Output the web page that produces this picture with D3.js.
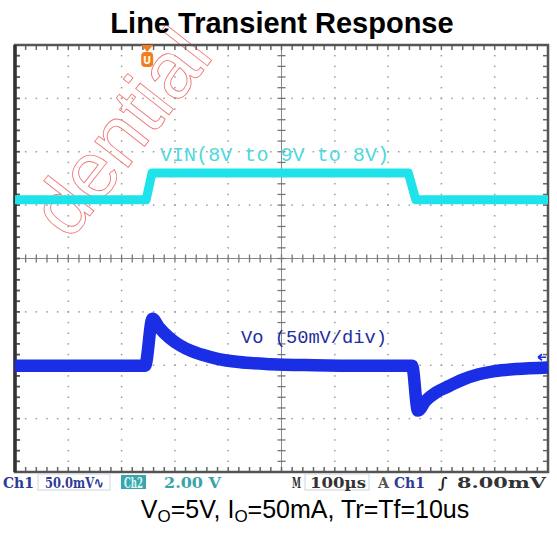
<!DOCTYPE html>
<html><head><meta charset="utf-8">
<script src="https://cdn.jsdelivr.net/npm/d3@7"></script>
<style>body{margin:0;background:#fff}svg{display:block}</style>
</head><body>
<svg id="chart" width="557" height="536"></svg>
<script>
// ---------- data ----------
const titleText = "Line Transient Response";
const timeDivsUs = [0,100,200,300,400,500,600,700,800,900,1000];   // 100us/div
const vertDivs = [-4,-3,-2,-1,0,1,2,3,4];
// Ch2 : VIN (2.00 V/div)
const vinTimeUs = [0, 246, 257, 738, 752, 1000];
const vinVolts  = [8, 8, 9, 9, 8, 8];
// Ch1 : Vo deviation (50.0 mV/div)
const voTimeUs = [0, 244, 258, 270, 290, 310, 330, 350, 380, 420, 480, 560, 650, 745, 756, 770, 790, 810, 840, 870, 900, 940, 1000];
const voDevMv  = [0, 0, 44, 36, 26, 19, 14, 10.5, 6.5, 3.5, 1.5, 0.5, 0, 0, -42, -33, -25, -20, -13, -8, -5, -3, -1.5];
const vinLabel = "VIN(8V to 9V to 8V)";
const voLabel = "Vo (50mV/div)";
const watermarkText = "dential";
const captionParts = [["V",""],["O","sub"],["=5V, I",""],["O","sub"],["=50mA, Tr=Tf=10us",""]];
const statusItems = [
  {t:"Ch1", x:3, w:31, c:"#2d3a96"},
  {t:"50.0mV\u223F", x:45, w:59, c:"#2d3a96"},
  {t:"Ch2", x:124, w:19, c:"#dff6f6", box:"#38a7ad"},
  {t:"2.00 V", x:164, w:57, c:"#3aa3aa"},
  {t:"M", x:292, w:9, c:"#333"},
  {t:"100\u00B5s", x:310, w:56, c:"#333"},
  {t:"A", x:378, w:11, c:"#555"},
  {t:"Ch1", x:394, w:31, c:"#2d3a96"},
  {t:"\u222B", x:438, w:10, c:"#222"},
  {t:"8.00mV", x:457, w:89, c:"#333"}
];
const ch1TrigMv = 8;   // trigger level

// ---------- layout ----------
const svg = d3.select("#chart");
const L = 15, R = 548, T = 45, B = 472;
const x = d3.scaleLinear().domain([0,1000]).range([L,R]);
const y = d3.scaleLinear().domain([-4,4]).range([B,T]);
const vinDiv = v => v/2 - 2.9;
const voDiv = mv => mv/50 - 2.01;

// watermark
svg.append("text")
  .attr("transform","translate(215,56) rotate(-52)")
  .attr("text-anchor","end")
  .style("font-family","Liberation Sans, Arial, sans-serif")
  .style("font-size","80px")
  .attr("fill","none").attr("stroke","#f07878").attr("stroke-width",0.9)
  .text(watermarkText);

// title
svg.append("text").attr("x",282).attr("y",33).attr("text-anchor","middle")
  .style("font-family","Liberation Sans, Arial, sans-serif").style("font-weight","bold")
  .style("font-size","29px").attr("fill","#000").text(titleText);

const g = svg.append("g");

// dotted grid
const minor = d3.range(0, 1000.001, 20);
const minorV = d3.range(-4, 4.001, 0.2);
timeDivsUs.slice(1,-1).filter(t=>t!==500).forEach(t=>{
  g.selectAll(null).data(minorV).join("rect")
    .attr("x", x(t)-0.75).attr("y", d=>y(d)-0.75).attr("width",1.5).attr("height",1.5).attr("fill","#9a9a9a");
});
vertDivs.slice(1,-1).filter(d=>d!==0).forEach(d=>{
  g.selectAll(null).data(minor).join("rect")
    .attr("x", t=>x(t)-0.75).attr("y", y(d)-0.75).attr("width",1.5).attr("height",1.5).attr("fill","#9a9a9a");
});
// centre cross
g.append("line").attr("x1",L).attr("x2",R).attr("y1",y(0)).attr("y2",y(0)).attr("stroke","#8a8a8a").attr("stroke-width",1);
g.append("line").attr("x1",x(500)).attr("x2",x(500)).attr("y1",T).attr("y2",B).attr("stroke","#8a8a8a").attr("stroke-width",1);
g.selectAll(null).data(minor).join("line")
  .attr("x1",t=>x(t)).attr("x2",t=>x(t)).attr("y1",y(0)-4).attr("y2",y(0)+4).attr("stroke","#777").attr("stroke-width",1.3);
g.selectAll(null).data(minorV).join("line")
  .attr("y1",d=>y(d)).attr("y2",d=>y(d)).attr("x1",x(500)-4).attr("x2",x(500)+4).attr("stroke","#777").attr("stroke-width",1.3);
// border ticks
g.selectAll(null).data(minor).join("line")
  .attr("x1",t=>x(t)).attr("x2",t=>x(t)).attr("y1",T).attr("y2",T+5).attr("stroke","#666").attr("stroke-width",1.5);
g.selectAll(null).data(minor).join("line")
  .attr("x1",t=>x(t)).attr("x2",t=>x(t)).attr("y1",B-5).attr("y2",B).attr("stroke","#666").attr("stroke-width",1.5);
g.selectAll(null).data(minorV).join("line")
  .attr("y1",d=>y(d)).attr("y2",d=>y(d)).attr("x1",L).attr("x2",L+5).attr("stroke","#555").attr("stroke-width",1.8);
g.selectAll(null).data(minorV).join("line")
  .attr("y1",d=>y(d)).attr("y2",d=>y(d)).attr("x1",R-5).attr("x2",R).attr("stroke","#666").attr("stroke-width",1.5);
// border
g.append("rect").attr("x",L).attr("y",T).attr("width",R-L).attr("height",B-T)
  .attr("fill","none").attr("stroke","#555").attr("stroke-width",2.5);
g.append("line").attr("x1",L).attr("x2",L).attr("y1",T).attr("y2",B).attr("stroke","#333").attr("stroke-width",3.5);

// traces
const vinData = vinTimeUs.map((t,i)=>[t, vinVolts[i]]);
const voData = voTimeUs.map((t,i)=>[t, voDevMv[i]]);
g.append("path").datum(vinData)
  .attr("d", d3.line().x(d=>x(d[0])).y(d=>y(vinDiv(d[1]))))
  .attr("fill","none").attr("stroke","#1fe3ea").attr("stroke-width",9).attr("stroke-linejoin","round");
g.append("path").datum(voData)
  .attr("d", d3.line().curve(d3.curveMonotoneX).x(d=>x(d[0])).y(d=>y(voDiv(d[1]))))
  .attr("fill","none").attr("stroke","#1a2ee6").attr("stroke-width",12.5).attr("stroke-linejoin","round");

// labels
svg.append("text").attr("x",160).attr("y",161)
  .style("font-family","Liberation Mono, DejaVu Sans Mono, monospace").style("font-size","20px")
  .attr("textLength",229).attr("lengthAdjust","spacingAndGlyphs")
  .attr("fill","#4fd8de").text(vinLabel);
svg.append("text").attr("x",241).attr("y",343)
  .style("font-family","Liberation Mono, DejaVu Sans Mono, monospace").style("font-size","19px")
  .attr("textLength",146).attr("lengthAdjust","spacingAndGlyphs")
  .attr("fill","#1e2e9e").text(voLabel);

// trigger position marker
const tx = x(248);
svg.append("path").attr("d",`M${tx-6},${T} L${tx+6},${T} L${tx},${T+7} Z`).attr("fill","#f07d1e");
svg.append("rect").attr("x",tx-6).attr("y",T+7).attr("width",12).attr("height",15).attr("rx",4).attr("fill","#f07d1e");
svg.append("text").attr("x",tx).attr("y",T+19).attr("text-anchor","middle")
  .style("font-family","DejaVu Sans, sans-serif").style("font-size","10px").style("font-weight","bold").attr("fill","#fff3e0").text("U");
// trigger level marker
const ty = y(voDiv(ch1TrigMv));
svg.append("path").attr("d",`M${R-10},${ty} L${R-2},${ty} M${R-10},${ty} L${R-6},${ty-3} M${R-10},${ty} L${R-6},${ty+3}`)
  .attr("stroke","#1a2ee6").attr("stroke-width",1.6).attr("fill","none");

// status bar
const sb = svg.append("g");
sb.append("rect").attr("x",38).attr("y",474).attr("width",72).attr("height",16).attr("fill","none").attr("stroke","#cfd4dc").attr("stroke-width",1);
sb.append("rect").attr("x",305).attr("y",474).attr("width",64).attr("height",16).attr("fill","none").attr("stroke","#cfd4dc").attr("stroke-width",1);
statusItems.forEach(s=>{
  if (s.box) sb.append("rect").attr("x",s.x-3).attr("y",475).attr("width",s.w+6).attr("height",14).attr("fill",s.box);
  sb.append("text").attr("x",s.x).attr("y",488)
    .style("font-family","DejaVu Serif, Liberation Serif, serif").style("font-weight","bold").style("font-size","15px")
    .attr("textLength",s.w).attr("lengthAdjust","spacingAndGlyphs")
    .attr("fill",s.c).text(s.t);
});

// caption
const cap = svg.append("text").attr("x",305).attr("y",518).attr("text-anchor","middle")
  .style("font-family","Liberation Sans, Arial, sans-serif").style("font-size","25px").attr("fill","#000");
captionParts.forEach(p=>{
  const ts = cap.append("tspan").text(p[0]);
  if (p[1]==="sub") ts.style("font-size","17px").attr("dy",4);
  else if (cap.selectAll("tspan").size()>1) ts.attr("dy",-4);
});
</script>
</body></html>
